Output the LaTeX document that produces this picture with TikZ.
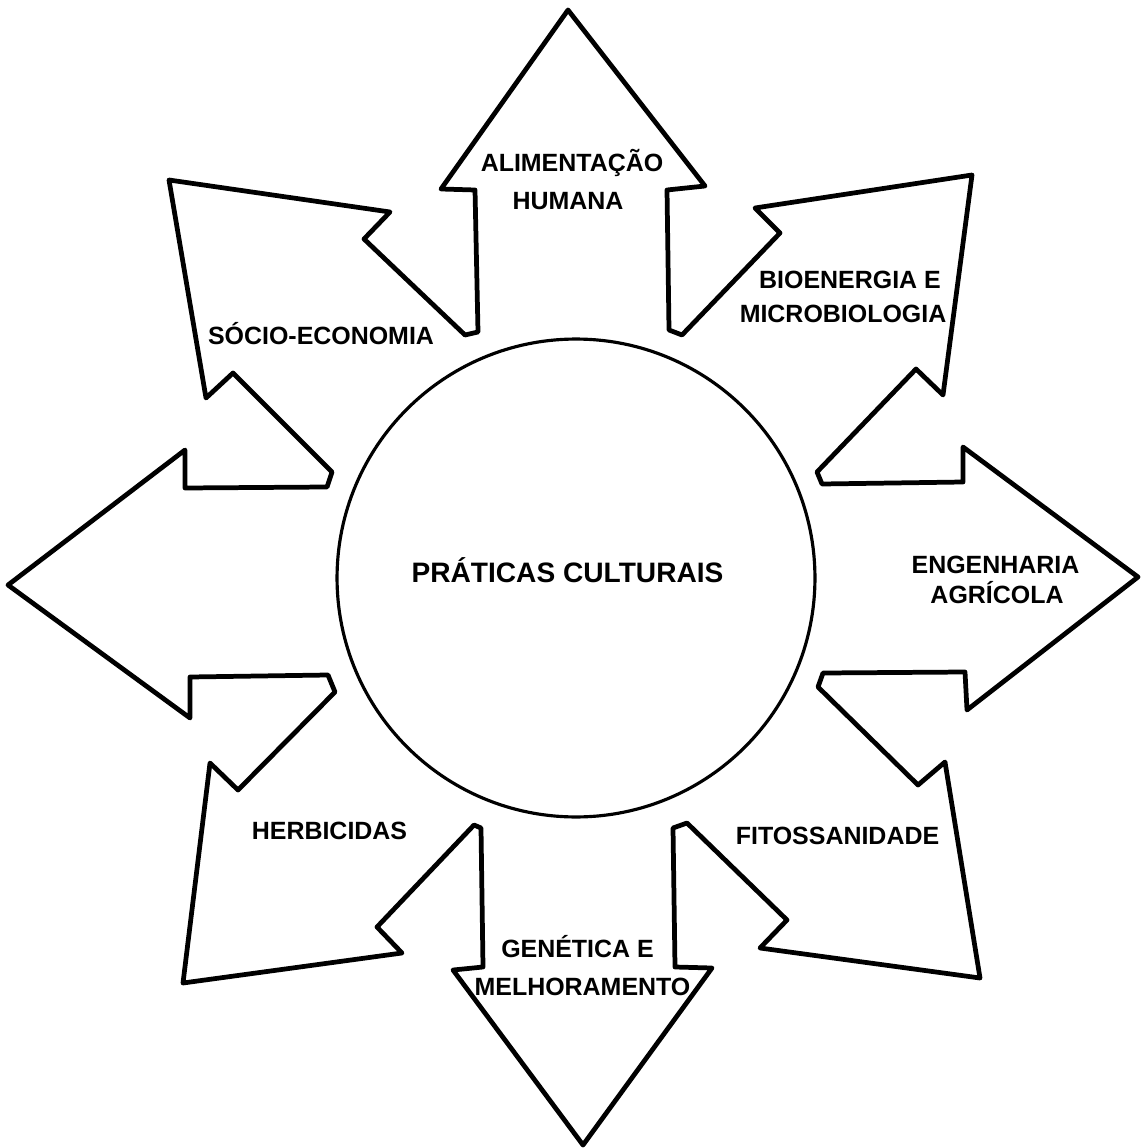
\documentclass[tikz,border=0pt]{standalone}
\usepackage{fontspec}
\setmainfont{Liberation Sans}

\begin{document}
\begin{tikzpicture}[x=0.02cm, y=-0.02cm,
		contorno/.style={line width=2.7pt, line join=round},
		rotulo/.style={font=\bfseries\fontsize{14.2}{17}\selectfont, anchor=base, inner sep=0pt},
	]
	\useasboundingbox (0, 0) rectangle (1144, 1148);

	% the eight arrows form one closed outline, clockwise from the top tip
	\draw[contorno]
		(568, 10) -- (705, 186) -- (667, 190) -- (669, 330) -- (682, 335)
		-- (780, 233) -- (755, 208) -- (972, 175) -- (943, 395) -- (916, 369) -- (817, 472) -- (822, 484)
		-- (963, 482) -- (963, 447) -- (1138, 577) -- (967, 710) -- (965, 672) -- (823, 673) -- (818, 687)
		-- (918, 785) -- (945, 762) -- (980, 978) -- (760, 948) -- (787, 920) -- (687, 823) -- (673, 828)
		-- (675, 967) -- (712, 968) -- (583, 1145) -- (453, 970) -- (483, 967) -- (481, 828) -- (474, 825)
		-- (377, 927) -- (402, 953) -- (183, 983) -- (210, 763) -- (238, 790) -- (335, 692) -- (328, 675)
		-- (190, 677) -- (190, 718) -- (8, 585) -- (185, 450) -- (185, 488) -- (327, 487) -- (332, 472)
		-- (233, 373) -- (206, 398) -- (169, 180) -- (390, 212) -- (364, 239) -- (465, 335) -- (478, 332)
		-- (475, 190) -- (441, 189) -- cycle;

	\node[circle, draw, line width=1.8pt, inner sep=0pt, minimum size=9.56cm] (centro) at (576, 578) {};
	\node[rotulo, font=\bfseries\fontsize{16}{19}\selectfont] (praticas) at (567.5, 582) {PRÁTICAS CULTURAIS};

	\node[rotulo] (alim) at (572, 172) {ALIMENTAÇÃO};
	\node[rotulo] (humana) at (568, 210) {HUMANA};
	\node[rotulo] (bioen) at (850, 289) {BIOENERGIA E};
	\node[rotulo] (micro) at (843, 323) {MICROBIOLOGIA};
	\node[rotulo] (engen) at (995.5, 573) {ENGENHARIA};
	\node[rotulo] (agric) at (997, 603) {AGRÍCOLA};
	\node[rotulo] (fito) at (837.5, 844) {FITOSSANIDADE};
	\node[rotulo] (genet) at (577.5, 957) {GENÉTICA E};
	\node[rotulo] (melhor) at (582.5, 995) {MELHORAMENTO};
	\node[rotulo] (herb) at (329.5, 839) {HERBICIDAS};
	\node[rotulo] (socio) at (321, 345) {SÓCIO-ECONOMIA};
\end{tikzpicture}
\end{document}
